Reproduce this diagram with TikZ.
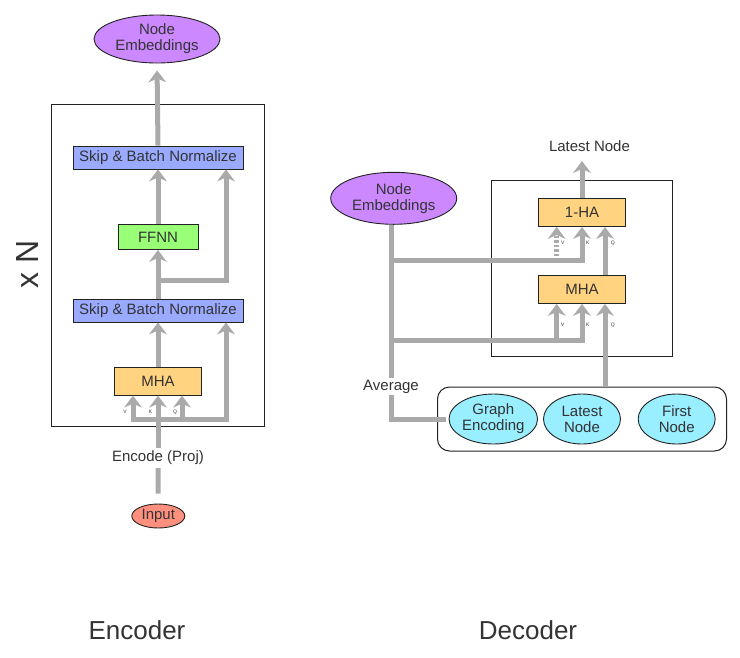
\documentclass[tikz,border=0pt]{standalone}
\usepackage{fontspec}
\setmainfont{Liberation Sans}
\usetikzlibrary{arrows.meta,shapes.geometric}
\definecolor{txtc}{RGB}{51,51,51}
\definecolor{linec}{RGB}{170,170,170}
\definecolor{purp}{RGB}{204,136,255}
\definecolor{bluef}{RGB}{153,170,255}
\definecolor{greenf}{RGB}{153,255,119}
\definecolor{orangef}{RGB}{255,211,128}
\definecolor{salmonf}{RGB}{255,144,128}
\definecolor{cyanf}{RGB}{153,238,255}
\definecolor{borderc}{RGB}{34,34,34}
\begin{document}
\begin{tikzpicture}[x=1pt,y=-1pt,
  every node/.style={text=txtc, font=\fontsize{15}{16}\selectfont},
  blk/.style={draw=borderc, line width=0.9pt, inner sep=0pt},
  ell/.style={ellipse, draw=borderc, line width=0.9pt, inner sep=0pt, align=center},
  frame/.style={draw=borderc, line width=1pt, inner sep=0pt},
  ln/.style={draw=linec, line width=5pt},
  arr/.style={ln, -{Stealth[length=12pt,width=18pt,inset=4pt,line width=0pt]}},
  tiny/.style={font=\fontsize{5}{6}\selectfont, inner sep=0pt},
  lbl/.style={inner xsep=2pt},
  big/.style={font=\fontsize{26}{26}\selectfont}
]
\useasboundingbox (0,0) rectangle (740,657);

% ---------------- Encoder ----------------
\node[frame, minimum width=213pt, minimum height=322pt] (encframe) at (158.3,265) {};
\node[ell, fill=purp, minimum width=126pt, minimum height=48pt] (encemb) at (157,39) {Node\\Embeddings};
\node[blk, fill=bluef, minimum width=170pt, minimum height=23pt] (skipA) at (158,157.5) {Skip \& Batch Normalize};
\node[blk, fill=greenf, minimum width=80pt, minimum height=25pt] (ffnn) at (158,237) {FFNN};
\node[blk, fill=bluef, minimum width=170pt, minimum height=23pt] (skipB) at (158,310.5) {Skip \& Batch Normalize};
\node[blk, fill=orangef, minimum width=87pt, minimum height=28pt] (mha) at (158,381.2) {MHA};
\node[ell, fill=salmonf, minimum width=53pt, minimum height=24pt] (input) at (158.3,516) {Input};
\node[lbl, inner ysep=3pt] (encproj) at (158,458) {Encode (Proj)};

\coordinate (eV) at (133,419.3);
\coordinate (eK) at (158,419.3);
\coordinate (eQ) at (182,419.3);
\coordinate (eR) at (226,419.3);
\coordinate (eBr) at (158,280);

\draw[arr, shorten >=7pt] (skipA.north) -- (encemb.south);
\draw[arr] (ffnn.north) -- (skipA.south);
\draw[arr] (skipB.north) -- (ffnn.south);
\draw[arr] (eBr) -| (skipA.south -| eR);
\draw[arr] (mha.north) -- (skipB.south);
\draw[arr] ([xshift=-2.5pt]eV) -| (skipB.south -| eR);
\draw[arr] (eV) -- (eV |- mha.south);
\draw[arr] (eK) -- (mha.south);
\draw[arr] (eQ) -- (eQ |- mha.south);
\draw[ln] (encproj.north) -- (eK);
\draw[ln, shorten <=10pt] (input.north) -- (encproj.south);

\node[tiny] (eVl) at (125,412) {V};
\node[tiny] (eKl) at (150.5,412) {K};
\node[tiny] (eQl) at (175,412) {Q};

\node[rotate=90, font=\fontsize{32}{32}\selectfont] (xn) at (27.5,264.5) {x N};
\node[big] (enclbl) at (137,630) {Encoder};

% ---------------- Decoder ----------------
\node[frame, minimum width=181pt, minimum height=176pt] (decframe) at (582.2,268) {};
\node[ell, fill=purp, minimum width=126pt, minimum height=52pt] (decemb) at (393.7,198.3) {Node\\Embeddings};
\node[blk, fill=orangef, minimum width=87pt, minimum height=28pt] (ha) at (582,212.5) {1-HA};
\node[blk, fill=orangef, minimum width=87pt, minimum height=28pt] (dmha) at (582,289.5) {MHA};
\node[lbl] (latest) at (589.5,146) {Latest Node};
\coordinate (latesttip) at (582,161);
\node[draw=borderc, line width=1pt, rounded corners=12pt, minimum width=289pt, minimum height=64pt] (ctx) at (582,419) {};
\node[ell, fill=cyanf, minimum width=77pt, minimum height=50pt] (ge) at (493.3,419) {Graph\\Encoding};
\node[ell, fill=cyanf, minimum width=77pt, minimum height=50pt] (lnode) at (582,419) {Latest\\Node};
\node[ell, fill=cyanf, minimum width=77pt, minimum height=50pt] (fnode) at (676.7,419) {First\\Node};
\node[lbl, inner ysep=2pt] (avg) at (391,386.5) {Average};

\coordinate (dU) at (391,260.5);
\coordinate (dL) at (391,340.7);
\coordinate (dVU) at (556.7,260.5);
\coordinate (dVL) at (556.7,340.7);
\coordinate (dQx) at (605,0);

\draw[arr] (ha.north) -- (latesttip);
\draw[ln] (decemb.south -| dU) -- (avg.north -| dU);
\draw[ln, shorten >=3pt] (avg.south -| dU) |- (ge.west);
\draw[arr] (dU) -| (ha.south);
\draw[arr, dash pattern=on 2.5pt off 2pt] (dVU) -- (dVU |- ha.south);
\draw[arr] (dL) -| (dmha.south);
\draw[arr] (dVL) -- (dVL |- dmha.south);
\draw[arr] (dmha.north -| dQx) -- (ha.south -| dQx);
\draw[arr] (ctx.north -| dQx) -- (dmha.south -| dQx);

\node[tiny] (dV1) at (562.7,243) {V};
\node[tiny] (dK1) at (587.7,243) {K};
\node[tiny] (dQ1) at (612.7,243) {Q};
\node[tiny] (dV2) at (562.7,325) {V};
\node[tiny] (dK2) at (587.7,325) {K};
\node[tiny] (dQ2) at (612.7,325) {Q};

\node[big] (declbl) at (528,630) {Decoder};
\end{tikzpicture}
\end{document}
